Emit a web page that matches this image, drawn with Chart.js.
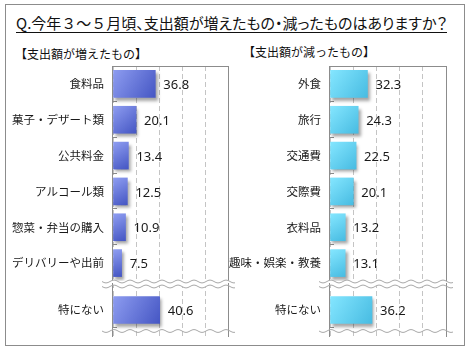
<!DOCTYPE html>
<html lang="ja">
<head>
<meta charset="utf-8">
<script src="https://cdn.jsdelivr.net/npm/chart.js@4/dist/chart.umd.min.js"></script>
<style>
  body { margin: 0; background: #fff; }
  #wrap { position: relative; width: 470px; height: 350px; font-family: "Noto Sans CJK JP", sans-serif; color: #111; }
  #frame { position: absolute; left: 5px; top: 4px; width: 458px; height: 340px; border: 1px solid #8c8c8c; }
  #title { position: absolute; left: 16px; top: 14px; font-size: 15px; line-height: 18px; border-bottom: 1px solid #111; white-space: nowrap; font-feature-settings: "palt"; }
  #title span { font-feature-settings: normal; }
  .sub { position: absolute; font-size: 12px; line-height: 14px; white-space: nowrap; }
  canvas { position: absolute; }
</style>
</head>
<body>
<div id="wrap">
  <div id="frame"></div>
  <div id="title">Q.今年<span>３～５</span>月頃、支出額が増えたもの・減ったものはありますか？</div>
  <div class="sub" style="left:15px; top:47px;">【支出額が増えたもの】</div>
  <div class="sub" style="left:243px; top:45px;">【支出額が減ったもの】</div>
  <canvas id="upTop" width="225" height="223" style="left:5px; top:60px;"></canvas>
  <canvas id="upBottom" width="234" height="68" style="left:5px; top:274px;"></canvas>
  <canvas id="downTop" width="226" height="223" style="left:222px; top:60px;"></canvas>
  <canvas id="downBottom" width="235" height="68" style="left:222px; top:274px;"></canvas>
</div>
<script>
// 支出額が増えたもの
const upLabels = ["食料品", "菓子・デザート類", "公共料金", "アルコール類", "惣菜・弁当の購入", "デリバリーや出前"];
const upValues = [36.8, 20.1, 13.4, 12.5, 10.9, 7.5];
// 支出額が減ったもの
const downLabels = ["外食", "旅行", "交通費", "交際費", "衣料品", "趣味・娯楽・教養"];
const downValues = [32.3, 24.3, 22.5, 20.1, 13.2, 13.1];
// 特にない
const noneLabels = ["特にない"];
const upNone = [40.6];
const downNone = [36.2];

const xMax = 100;
const xStep = 20;

const blue = ["#8d9cf0", "#4657c4"];
const cyan = ["#84e6ff", "#48bce2"];

Chart.defaults.font.family = '"Noto Sans CJK JP", sans-serif';
Chart.defaults.font.size = 12;
Chart.defaults.color = "#1a1a1a";

function barFill(colors) {
  return (c) => {
    const chart = c.chart;
    const xs = chart.scales.x;
    const ys = chart.scales.y;
    if (!chart.chartArea || !xs || !ys) return colors[1];
    const x0 = xs.getPixelForValue(0);
    const x1 = xs.getPixelForValue(c.raw);
    const yc = ys.getPixelForValue(c.dataIndex);
    const g = chart.ctx.createLinearGradient(x0, yc - 13, x1, yc + 13);
    g.addColorStop(0, colors[0]);
    g.addColorStop(1, colors[1]);
    return g;
  };
}

function wave(ctx, x0, x1, y, amp, period) {
  for (let x = x0; x <= x1; x += 1) {
    const yy = y + amp * Math.sin(((x - x0) / period) * Math.PI * 2);
    if (x === x0) ctx.moveTo(x, yy);
    else ctx.lineTo(x, yy);
  }
}

const decoPlugin = {
  id: "deco",
  beforeDatasetsDraw(chart, args, opts) {
    const { ctx, chartArea: a } = chart;
    ctx.save();

    // break band between the two parts
    if (opts.waves) {
      const x0 = a.left - 11;
      const x1 = a.right + 7;
      const y1 = a.top - 1.5;
      const y2 = a.top + 3.5;
      ctx.beginPath();
      wave(ctx, x0, x1, y1, 1.4, 16);
      for (let x = x1; x >= x0; x -= 1) {
        ctx.lineTo(x, y2 + 1.4 * Math.sin(((x - x0) / 16) * Math.PI * 2));
      }
      ctx.closePath();
      ctx.fillStyle = "#fff";
      ctx.fill();
    }

    ctx.strokeStyle = "#8c8c8c";
    ctx.lineWidth = 1;
    ctx.beginPath();
    ctx.moveTo(Math.round(a.left) - 0.5, a.top);
    ctx.lineTo(Math.round(a.left) - 0.5, a.bottom);
    ctx.moveTo(Math.round(a.right) + 0.5, a.top);
    ctx.lineTo(Math.round(a.right) + 0.5, a.bottom);
    if (opts.top) {
      ctx.moveTo(a.left - 1, Math.round(a.top) + 0.5);
      ctx.lineTo(a.right + 1, Math.round(a.top) + 0.5);
    }
    ctx.stroke();

    // small inside ticks on category boundaries
    if (opts.top) {
      const n = chart.data.labels.length;
      const step = (a.bottom - a.top) / n;
      ctx.beginPath();
      for (let i = 1; i < n; i++) {
        const y = Math.round(a.top + step * i) - 0.5;
        ctx.moveTo(a.left, y);
        ctx.lineTo(a.left + 4, y);
      }
      ctx.stroke();
    }

    if (opts.waves) {
      const x0 = a.left - 11;
      const x1 = a.right + 7;
      ctx.strokeStyle = "#a8a8a8";
      ctx.beginPath();
      wave(ctx, x0, x1, a.top - 1.5, 1.4, 16);
      ctx.stroke();
      ctx.beginPath();
      wave(ctx, x0, x1, a.top + 3.5, 1.4, 16);
      ctx.stroke();
      ctx.beginPath();
      wave(ctx, x0, x1, a.bottom - 6, 1.4, 16);
      ctx.stroke();
      ctx.strokeStyle = "#8c8c8c";
      ctx.beginPath();
      ctx.moveTo(a.left, a.bottom - 9.5);
      ctx.lineTo(a.left + 4, a.bottom - 9.5);
      ctx.stroke();
    }
    ctx.restore();

    // bar shadow
    ctx.save();
    ctx.shadowColor = "rgba(0,0,0,0.35)";
    ctx.shadowOffsetX = 2;
    ctx.shadowOffsetY = 3;
    ctx.shadowBlur = 3;
  },
  afterDatasetsDraw(chart) {
    const { ctx } = chart;
    ctx.restore();

    const xs = chart.scales.x;
    const ys = chart.scales.y;
    const values = chart.data.datasets[0].data;
    ctx.save();
    ctx.font = '13px "Noto Sans", sans-serif';
    ctx.fillStyle = "#1a1a1a";
    ctx.textAlign = "left";
    ctx.textBaseline = "middle";
    values.forEach((v, i) => {
      ctx.fillText(v.toFixed(1), xs.getPixelForValue(v) + 8, ys.getPixelForValue(i) + 1.5);
    });
    ctx.restore();
  },
};

function buildChart(canvasId, labels, values, colors, padding, deco) {
  const canvas = document.getElementById(canvasId);
  return new Chart(canvas, {
    type: "bar",
    data: {
      labels,
      datasets: [
        {
          data: values,
          backgroundColor: barFill(colors),
          borderWidth: 0,
          barThickness: 27,
        },
      ],
    },
    plugins: [decoPlugin],
    options: {
      indexAxis: "y",
      responsive: false,
      animation: false,
      events: [],
      layout: { padding },
      plugins: {
        legend: { display: false },
        tooltip: { enabled: false },
        deco,
      },
      scales: {
        x: {
          min: 0,
          max: xMax,
          ticks: { display: false, stepSize: xStep },
          grid: { color: "#c4c4c4", drawTicks: false },
          border: { display: false, dash: [5, 3] },
          afterFit(scale) {
            scale.height = 0;
          },
        },
        y: {
          grid: { display: false },
          border: { display: false },
          ticks: { padding: 1, color: "#1a1a1a", font: { size: 11.5 } },
          afterFit(scale) {
            scale.width = 108;
            scale.paddingTop = 0;
            scale.paddingBottom = 0;
          },
        },
      },
    },
  });
}

buildChart("upTop", upLabels, upValues, blue, { top: 6, right: 2, bottom: 2, left: 0 }, { top: true, waves: false });
buildChart("upBottom", noneLabels, upNone, blue, { top: 9, right: 11, bottom: 5, left: 0 }, { top: false, waves: true });
buildChart("downTop", downLabels, downValues, cyan, { top: 6, right: 2, bottom: 2, left: 0 }, { top: true, waves: false });
buildChart("downBottom", noneLabels, downNone, cyan, { top: 9, right: 11, bottom: 5, left: 0 }, { top: false, waves: true });
</script>
</body>
</html>
